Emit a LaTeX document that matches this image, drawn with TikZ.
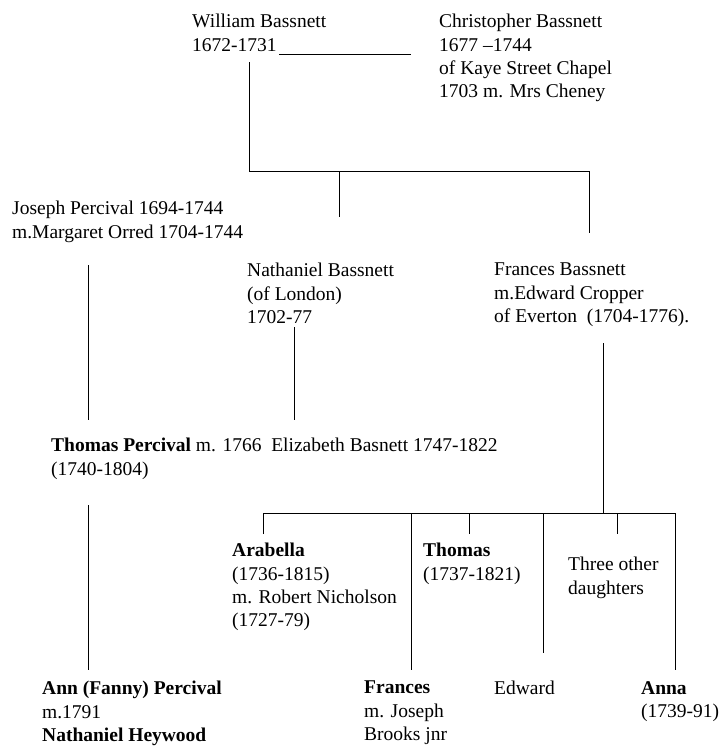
\documentclass[tikz,border=0pt]{standalone}
\usepackage{fontspec}
\setmainfont{Liberation Serif}
\begin{document}
\begin{tikzpicture}[x=1pt,y=-1pt,
  person/.style={anchor=north west,inner sep=0pt,align=left,font=\fontsize{19.5pt}{23.3pt}\selectfont},
  link/.style={line width=0.9pt,black}]
\useasboundingbox (0,0) rectangle (723,747);
% people
\node[person] (wb) at (192,14) {William Bassnett\\1672-1731};
\node[person] (cb) at (439,14) {Christopher Bassnett\\1677 –1744\\of Kaye Street Chapel\\1703 m. Mrs Cheney};
\node[person] (jp) at (12,201) {Joseph Percival 1694-1744\\m.Margaret Orred 1704-1744};
\node[person] (nb) at (247,263) {Nathaniel Bassnett\\(of London)\\1702-77};
\node[person] (fb) at (494,263) {Frances Bassnett\\m.Edward Cropper\\of Everton\ \ (1704-1776).};
\node[person] (tp) at (51,438) {\textbf{Thomas Percival} m. 1766\ \ Elizabeth Basnett 1747-1822\\(1740-1804)};
\node[person] (ar) at (232,543) {\textbf{Arabella}\\(1736-1815)\\m. Robert Nicholson\\(1727-79)};
\node[person] (th) at (423,543) {\textbf{Thomas}\\(1737-1821)};
\node[person] (tod) at (568,557) {Three other\\daughters};
\node[person] (ann) at (42,681) {\textbf{Ann (Fanny) Percival}\\m.1791\\\textbf{Nathaniel Heywood}};
\node[person] (fr) at (364,681) {\textbf{Frances}\\m. Joseph\\Brooks jnr};
\node[person] (ed) at (494,681) {Edward};
\node[person] (anna) at (641,681) {\textbf{Anna}\\(1739-91)};
% junction coordinates
\coordinate (m1a) at (279,54);
\coordinate (m1b) at (411,54);
\coordinate (w0) at (249,62);
\coordinate (w1) at (249,171);
\coordinate (w2) at (589,171);
\coordinate (w3) at (589,233);
\coordinate (n0) at (339,171);
\coordinate (n1) at (339,217);
\coordinate (j0) at (88,265);
\coordinate (j1) at (88,420);
\coordinate (nb0) at (294,327);
\coordinate (nb1) at (294,420);
\coordinate (fb0) at (603,343);
\coordinate (fb1) at (603,513);
\coordinate (t0) at (88,505);
\coordinate (t1) at (88,670);
\coordinate (cL) at (263,513);
\coordinate (cR) at (675,513);
\coordinate (cA) at (263,534);
\coordinate (cF0) at (411,513);
\coordinate (cF1) at (411,670);
\coordinate (cT0) at (469,513);
\coordinate (cT1) at (469,534);
\coordinate (cE0) at (543,513);
\coordinate (cE1) at (543,653);
\coordinate (cD0) at (617,513);
\coordinate (cD1) at (617,534);
\coordinate (cN) at (675,670);
% connectors
\draw[link] (m1a) -- (m1b);
\draw[link] (w0) -- (w1) -- (w2) -- (w3);
\draw[link] (n0) -- (n1);
\draw[link] (j0) -- (j1);
\draw[link] (nb0) -- (nb1);
\draw[link] (fb0) -- (fb1);
\draw[link] (t0) -- (t1);
\draw[link] (cA) -- (cL) -- (cR) -- (cN);
\draw[link] (cF0) -- (cF1);
\draw[link] (cT0) -- (cT1);
\draw[link] (cE0) -- (cE1);
\draw[link] (cD0) -- (cD1);
\end{tikzpicture}
\end{document}
